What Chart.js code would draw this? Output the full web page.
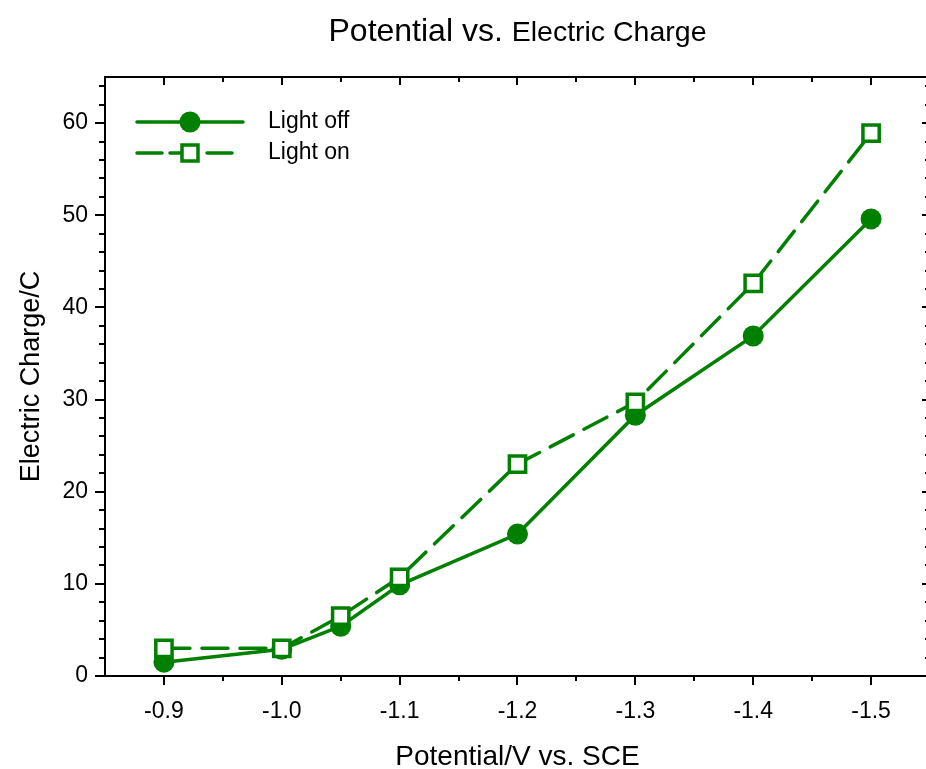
<!DOCTYPE html>
<html><head><meta charset="utf-8">
<script src="https://cdn.jsdelivr.net/npm/chart.js@4/dist/chart.umd.min.js"></script>
<style>
html,body{margin:0;padding:0;background:#fff;overflow:hidden;}
#wrap{width:945px;height:769px;position:relative;}
</style></head><body>
<div id="wrap"><canvas id="c" width="945" height="769"></canvas></div>
<script>
// ---- data ----
const potentials = [-0.9, -1.0, -1.05, -1.1, -1.2, -1.3, -1.4, -1.5];
const lightOff = [1.5, 2.9, 5.4, 9.9, 15.4, 28.3, 36.9, 49.6];
const lightOn  = [3.0, 3.0, 6.5, 10.7, 23.0, 29.7, 42.6, 58.9];
const xMajorTicks = [-0.9, -1.0, -1.1, -1.2, -1.3, -1.4, -1.5];
const xMinorTicks = [-0.95, -1.05, -1.15, -1.25, -1.35, -1.45];
const yMajorTicks = [0, 10, 20, 30, 40, 50, 60];
const yMinorTicks = [2,4,6,8,12,14,16,18,22,24,26,28,32,34,36,38,42,44,46,48,52,54,56,58,62,64];
const seriesNames = ['Light off', 'Light on'];
const titleMain = 'Potential vs. ';
const titleSub = 'Electric Charge';
const xTitle = 'Potential/V vs. SCE';
const yTitle = 'Electric Charge/C';

const GREEN = '#008000';
const FONT = '"Liberation Sans", Arial, sans-serif';

const framePlugin = {
  id: 'frame',
  afterDraw(chart) {
    const {ctx, chartArea: a, scales: {x, y}} = chart;
    ctx.save();
    ctx.strokeStyle = '#000';
    ctx.lineWidth = 2;
    ctx.strokeRect(a.left, a.top, a.right - a.left, a.bottom - a.top);
    ctx.beginPath();
    const tick = (px, len, axis) => {
      if (axis === 'bottom') { ctx.moveTo(px, a.bottom); ctx.lineTo(px, a.bottom + len); }
      if (axis === 'top') { ctx.moveTo(px, a.top); ctx.lineTo(px, a.top + len); }
      if (axis === 'left') { ctx.moveTo(a.left, px); ctx.lineTo(a.left - len, px); }
      if (axis === 'right') { ctx.moveTo(a.right, px); ctx.lineTo(a.right - len, px); }
    };
    xMajorTicks.forEach(v => { const p = Math.round(x.getPixelForValue(v)); tick(p, 9, 'bottom'); tick(p, 8, 'top'); });
    xMinorTicks.forEach(v => { const p = Math.round(x.getPixelForValue(v)); tick(p, 5, 'bottom'); tick(p, 5, 'top'); });
    yMajorTicks.forEach(v => { const p = Math.round(y.getPixelForValue(v)); tick(p, 10, 'left'); tick(p, 8, 'right'); });
    yMinorTicks.forEach(v => { const p = Math.round(y.getPixelForValue(v)); tick(p, 6, 'left'); tick(p, 5, 'right'); });
    ctx.stroke();

    // title with mixed sizes
    const f1 = '32px ' + FONT, f2 = '28.5px ' + FONT;
    ctx.font = f1; const w1 = ctx.measureText(titleMain).width;
    ctx.font = f2; const w2 = ctx.measureText(titleSub).width;
    const cx = (a.left + a.right) / 2;
    let sx = cx - (w1 + w2) / 2;
    ctx.fillStyle = '#000';
    ctx.textBaseline = 'alphabetic';
    ctx.textAlign = 'left';
    ctx.font = f1; ctx.fillText(titleMain, sx, 41);
    ctx.font = f2; ctx.fillText(titleSub, sx + w1, 41);

    // legend
    const lx0 = a.left + 32, lx1 = a.left + 138, mx = a.left + 85;
    const ly1 = a.top + 45, ly2 = a.top + 76;
    ctx.strokeStyle = GREEN; ctx.fillStyle = GREEN; ctx.lineWidth = 3.5; ctx.lineCap = 'round';
    ctx.beginPath(); ctx.moveTo(lx0, ly1); ctx.lineTo(lx1, ly1); ctx.stroke();
    ctx.beginPath(); ctx.arc(mx, ly1, 10.5, 0, Math.PI * 2); ctx.fill();
    ctx.beginPath();
    ctx.moveTo(lx0, ly2); ctx.lineTo(lx0 + 25, ly2);
    ctx.moveTo(lx0 + 33, ly2); ctx.lineTo(mx, ly2);
    ctx.moveTo(mx + 17, ly2); ctx.lineTo(lx0 + 95, ly2);
    ctx.stroke();
    ctx.fillStyle = '#fff'; ctx.lineWidth = 3.5;
    ctx.beginPath(); ctx.rect(mx - 8, ly2 - 8, 16, 16); ctx.fill(); ctx.stroke();
    ctx.fillStyle = '#000';
    ctx.font = '23px ' + FONT; ctx.textBaseline = 'middle';
    ctx.fillText(seriesNames[0], a.left + 163, ly1);
    ctx.fillText(seriesNames[1], a.left + 163, ly2);
    ctx.restore();
  }
};

new Chart(document.getElementById('c'), {
  type: 'line',
  data: {
    datasets: [
      {
        label: seriesNames[1],
        data: potentials.map((v, i) => ({x: v, y: lightOn[i]})),
        borderColor: GREEN, borderWidth: 3.5, borderDash: [26, 12], borderCapStyle: 'round',
        pointStyle: 'rect', pointRadius: 11.5, pointBackgroundColor: '#fff',
        pointBorderColor: GREEN, pointBorderWidth: 3.5, order: 0, tension: 0
      },
      {
        label: seriesNames[0],
        data: potentials.map((v, i) => ({x: v, y: lightOff[i]})),
        borderColor: GREEN, borderWidth: 3.5, borderCapStyle: 'round',
        pointStyle: 'circle', pointRadius: 10.5, pointBackgroundColor: GREEN,
        pointBorderColor: GREEN, pointBorderWidth: 0, order: 1, tension: 0
      }
    ]
  },
  options: {
    responsive: false, animation: false, devicePixelRatio: 1,
    layout: {padding: {top: 77, left: 0, right: 11, bottom: 0}},
    plugins: {legend: {display: false}, tooltip: {enabled: false}, title: {display: false}},
    scales: {
      x: {
        type: 'linear', reverse: true, min: -1.55, max: -0.85,
        grid: {display: false, drawTicks: false}, border: {display: false},
        afterBuildTicks: s => { s.ticks = xMajorTicks.map(v => ({value: v})); },
        afterFit: s => { s.height = 93; },
        ticks: {font: {size: 23, family: FONT}, color: '#000', padding: 22, maxRotation: 0, autoSkip: false,
                callback: v => Number(v).toFixed(1)},
        title: {display: true, text: xTitle, color: '#000', font: {size: 28, family: FONT, lineHeight: 0.9}, padding: {top: 0, bottom: -1}}
      },
      y: {
        type: 'linear', min: 0, max: 65,
        grid: {display: false, drawTicks: false}, border: {display: false},
        afterBuildTicks: s => { s.ticks = yMajorTicks.map(v => ({value: v})); },
        afterFit: s => { s.width = 105; },
        ticks: {font: {size: 23, family: FONT}, color: '#000', padding: 17, autoSkip: false},
        title: {display: true, text: yTitle, color: '#000', font: {size: 27, family: FONT, lineHeight: 0.9}, padding: {top: 19, bottom: 0}}
      }
    }
  },
  plugins: [framePlugin]
});
</script>
</body></html>
